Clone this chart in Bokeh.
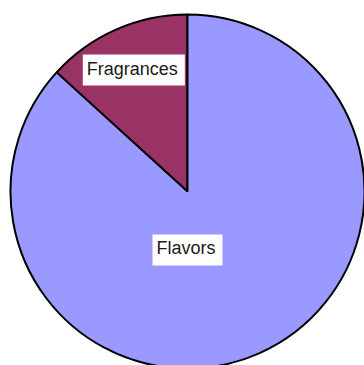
import math
from bokeh.plotting import figure
from bokeh.models import ColumnDataSource, Range1d
from bokeh.core.properties import value
from bokeh.embed import file_html
from bokeh.resources import INLINE

# Share of each segment (percent)
categories = ["Fragrances", "Flavors"]
shares = [13.25, 86.75]
colors = ["#993366", "#9999FF"]

W, H = 364, 365
CX, CY, R = 187, 365 - 191, 177

# Slices run anticlockwise, starting from 12 o'clock
total = sum(shares)
starts, ends = [], []
a = math.pi / 2
for s in shares:
    starts.append(a)
    a += 2 * math.pi * s / total
    ends.append(a)

src = ColumnDataSource(dict(cat=categories, start=starts, end=ends, color=colors))

p = figure(width=W, height=H, output_backend="svg", toolbar_location=None,
           x_range=Range1d(0, W), y_range=Range1d(0, H), min_border=0)
p.axis.visible = False
p.grid.visible = False
p.outline_line_color = None
p.background_fill_color = "white"
p.border_fill_color = "white"

p.wedge(x=CX, y=CY, radius=R, start_angle="start", end_angle="end",
        fill_color="color", line_color="black", line_width=2, source=src)

# Label anchors: radial fraction per slice; the large slice's label sits straight below the centre
label_r = [0.75, 0.33]
label_x, label_y = [], []
for i, (s, e) in enumerate(zip(starts, ends)):
    mid = (s + e) / 2
    if i == 1:
        mid = -math.pi / 2
    label_x.append(CX + label_r[i] * R * math.cos(mid))
    label_y.append(CY + label_r[i] * R * math.sin(mid))

lsrc = ColumnDataSource(dict(x=label_x, y=label_y, t=categories))
p.text(x="x", y="y", text="t", source=lsrc, text_align="center",
       text_baseline="middle", text_font=value("Liberation Sans"),
       text_font_size="18px", text_color="#1a1a1a",
       background_fill_color="white", padding=[4, 7, 4, 7])

open("out.html", "w").write(file_html(p, INLINE))
